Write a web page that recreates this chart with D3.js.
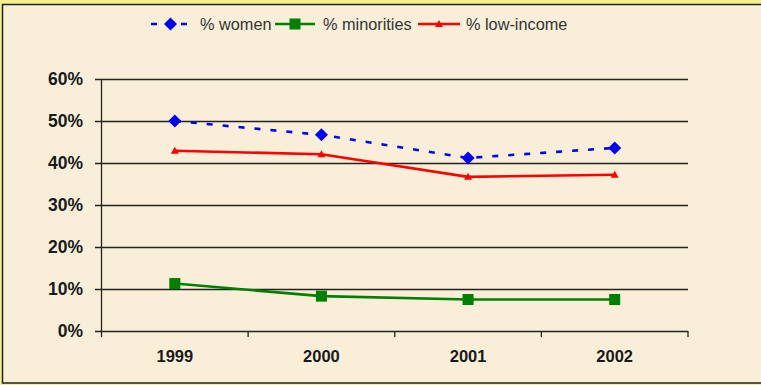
<!DOCTYPE html>
<html>
<head>
<meta charset="utf-8">
<script src="https://cdn.jsdelivr.net/npm/d3@7"></script>
<style>
  html, body { margin: 0; padding: 0; background: #f5ef8c; }
  svg { display: block; }
  .tick-label { font-family: "Liberation Sans", Arial, sans-serif; font-weight: bold; font-size: 16.5px; fill: #1a1a1a; }
  .y-label { font-size: 17.5px; }
  .legend-label { font-family: "Liberation Sans", Arial, sans-serif; font-size: 16.3px; fill: #333; }
</style>
</head>
<body>
<div id="chart"></div>
<script>
// data
const years = ["1999", "2000", "2001", "2002"];
const women = [50.0, 46.7, 41.2, 43.6];
const minorities = [11.3, 8.3, 7.5, 7.5];
const lowIncome = [42.9, 42.1, 36.7, 37.2];
const yTicks = [0, 10, 20, 30, 40, 50, 60];

const series = [
    {name: "% women", values: women, color: "#0000ff", dash: "6,10", marker: "diamond"},
    {name: "% minorities", values: minorities, color: "#008000", dash: null, marker: "square"},
    {name: "% low-income", values: lowIncome, color: "#ff0000", dash: null, marker: "triangle"}
];

const width = 761, height = 385;
const svg = d3.select("#chart").append("svg")
    .attr("width", width)
    .attr("height", height);

// frame
svg.append("rect")
    .attr("x", 2.5).attr("y", 4.5)
    .attr("width", width).attr("height", 378.5)
    .attr("fill", "#f9efd8")
    .attr("stroke", "#222")
    .attr("stroke-width", 1.5);

const xScale = d3.scaleBand()
    .domain(years)
    .range([101.5, 688]);

const yScale = d3.scaleLinear()
    .domain([0, 60])
    .range([331, 79]);

// gridlines
svg.append("g")
    .selectAll("line")
    .data(yTicks)
    .enter().append("line")
    .attr("x1", 95)
    .attr("x2", 688)
    .attr("y1", d => yScale(d) + 0.5)
    .attr("y2", d => yScale(d) + 0.5)
    .attr("stroke", "#222")
    .attr("stroke-width", 1.3);

// y axis line
svg.append("line")
    .attr("x1", 101.5).attr("x2", 101.5)
    .attr("y1", yScale(60)).attr("y2", yScale(0) + 1)
    .attr("stroke", "#222")
    .attr("stroke-width", 1.3);

// x axis ticks between bands
const tickXs = years.map(d => xScale(d)).concat([xScale.range()[1]]);
svg.append("g")
    .selectAll("line")
    .data(tickXs)
    .enter().append("line")
    .attr("x1", d => d).attr("x2", d => d)
    .attr("y1", yScale(0)).attr("y2", yScale(0) + 6)
    .attr("stroke", "#222")
    .attr("stroke-width", 1.3);

// y labels
svg.append("g")
    .selectAll("text")
    .data(yTicks)
    .enter().append("text")
    .attr("class", "tick-label y-label")
    .attr("x", 83)
    .attr("y", d => yScale(d) + 6)
    .attr("text-anchor", "end")
    .text(d => d + "%");

// x labels
svg.append("g")
    .selectAll("text")
    .data(years)
    .enter().append("text")
    .attr("class", "tick-label")
    .attr("x", d => xScale(d) + xScale.bandwidth() / 2)
    .attr("y", 362)
    .attr("text-anchor", "middle")
    .text(d => d);

function drawMarker(g, type, color, x, y) {
    if (type === "diamond") {
        g.append("path")
            .attr("d", `M${x},${y - 6.5}L${x + 6.5},${y}L${x},${y + 6.5}L${x - 6.5},${y}Z`)
            .attr("fill", color);
    } else if (type === "square") {
        g.append("rect")
            .attr("x", x - 5.5).attr("y", y - 5.5)
            .attr("width", 11).attr("height", 11)
            .attr("fill", color);
    } else {
        g.append("path")
            .attr("d", `M${x},${y - 4}L${x + 4},${y + 3}L${x - 4},${y + 3}Z`)
            .attr("fill", color);
    }
}

const line = d3.line()
    .x((d, i) => xScale(years[i]) + xScale.bandwidth() / 2)
    .y(d => yScale(d));

series.forEach(s => {
    const g = svg.append("g");
    g.append("path")
        .datum(s.values)
        .attr("d", line)
        .attr("fill", "none")
        .attr("stroke", s.color)
        .attr("stroke-width", 2.6)
        .attr("stroke-dasharray", s.dash);
    s.values.forEach((v, i) => {
        drawMarker(g, s.marker, s.color, xScale(years[i]) + xScale.bandwidth() / 2, yScale(v));
    });
});

// legend
const legendItems = [
    {lx1: 151, lx2: 190, tx: 200},
    {lx1: 275, lx2: 315, tx: 323},
    {lx1: 418, lx2: 460, tx: 466}
];
const legendY = 24;
series.forEach((s, i) => {
    const item = legendItems[i];
    const g = svg.append("g");
    g.append("line")
        .attr("x1", item.lx1).attr("x2", item.lx2)
        .attr("y1", legendY).attr("y2", legendY)
        .attr("stroke", s.color)
        .attr("stroke-width", 2.6)
        .attr("stroke-dasharray", s.dash ? "6,9" : null);
    drawMarker(g, s.marker, s.color, (item.lx1 + item.lx2) / 2, legendY);
    g.append("text")
        .attr("class", "legend-label")
        .attr("x", item.tx)
        .attr("y", legendY + 6)
        .text(s.name);
});
</script>
</body>
</html>
